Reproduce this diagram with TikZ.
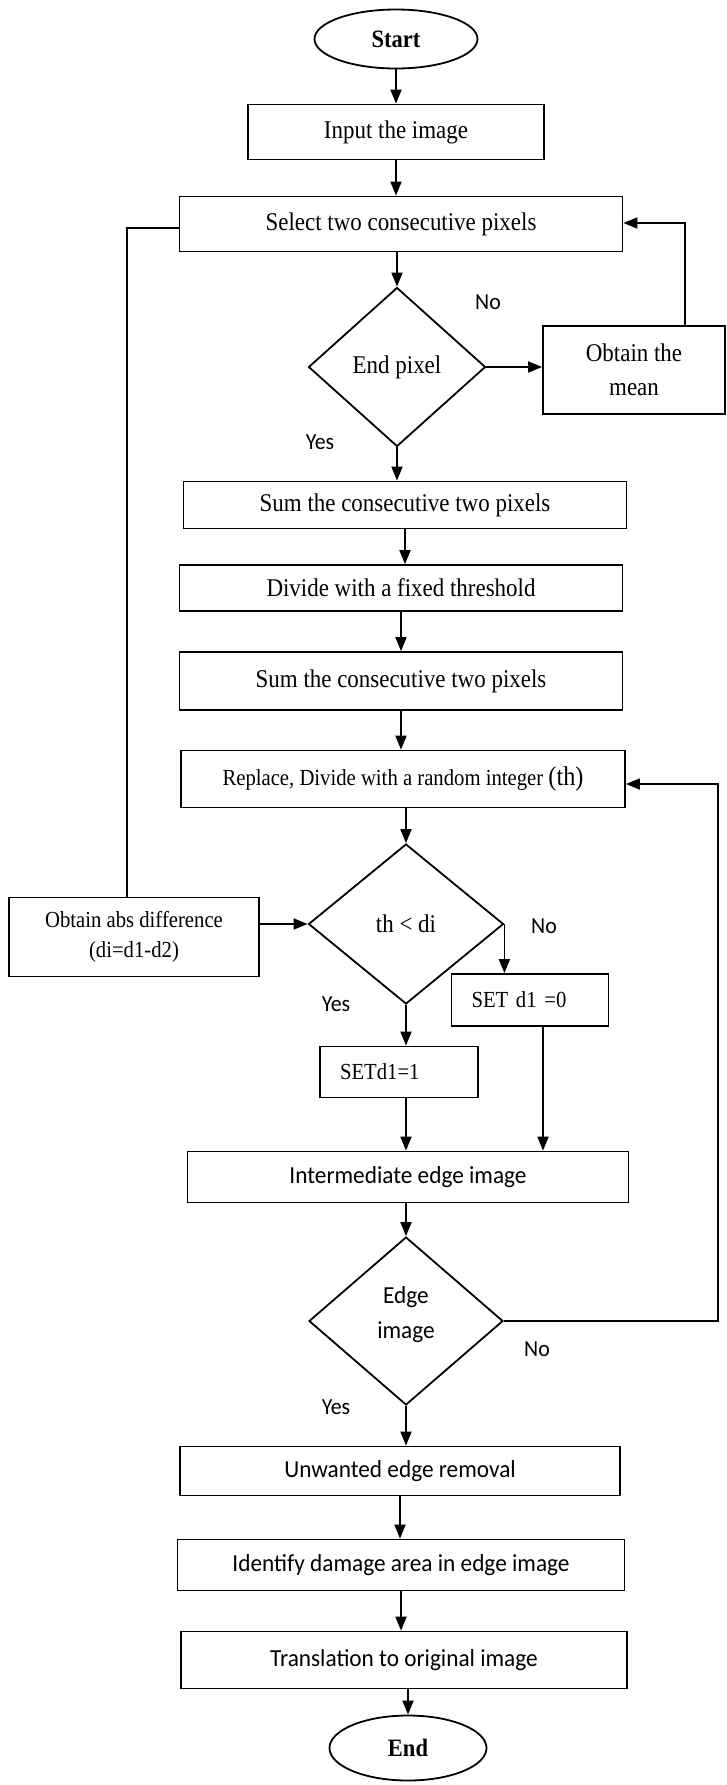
\documentclass[tikz,border=0pt]{standalone}
\usepackage{fontspec}
\setmainfont{Liberation Serif}[FakeStretch=0.9]
\newfontfamily\calfont{Carlito}[FakeStretch=0.95]
\usetikzlibrary{shapes.geometric,arrows.meta}
\begin{document}
\begin{tikzpicture}[x=1pt,y=-1pt,
  every node/.style={inner sep=0pt},
  box/.style={draw,line width=1.8pt,rectangle,align=center},
  dec/.style={draw,line width=1.8pt,diamond,align=center},
  term/.style={draw,line width=1.8pt,ellipse,font=\fontsize{25}{28}\selectfont\bfseries},
  tm/.style={font=\fontsize{25.5}{34}\selectfont},
  sm/.style={font=\fontsize{23}{30}\selectfont},
  cb/.style={font=\calfont\fontsize{24.5}{35}\selectfont},
  lab/.style={font=\calfont\fontsize{23}{26}\selectfont},
  setbox/.style={box,sm,align=left,inner xsep=20pt},
  arr/.style={line width=1.8pt,-{Triangle[length=14pt,width=11pt]}},
  ln/.style={line width=1.8pt}
]
\useasboundingbox (0,0) rectangle (726,1785);

\node[term,minimum width=163pt,minimum height=59pt] (start) at (396,39) {Start};
\node[box,tm,minimum width=296pt,minimum height=55pt] (input) at (396,132) {Input the image};
\node[box,tm,minimum width=443pt,minimum height=55pt] (select) at (401,224) {Select two consecutive pixels};
\node[dec,tm,minimum width=177pt,minimum height=159pt] (endpix) at (397,367) {End pixel};
\node[box,tm,minimum width=182pt,minimum height=88pt] (mean) at (634,370) {Obtain the\\mean};
\node[box,tm,minimum width=443pt,minimum height=47pt] (sum1) at (405,505) {Sum the consecutive two pixels};
\node[box,tm,minimum width=443pt,minimum height=46pt] (divide) at (401,588) {Divide with a fixed threshold};
\node[box,tm,minimum width=443pt,minimum height=58pt] (sum2) at (401,681) {Sum the consecutive two pixels};
\node[box,sm,minimum width=444pt,minimum height=57pt] (replace) at (403,779) {Replace, Divide with a random integer {\fontsize{27}{30}\selectfont(th)}};
\node[dec,tm,minimum width=195pt,minimum height=160pt] (thdi) at (406,924) {th < di};
\node[box,sm,minimum width=250pt,minimum height=79pt] (absd) at (134,937) {Obtain abs difference\\(di=d1-d2)};
\node[setbox,text width=117pt,minimum height=52pt] (set0) at (530,1000) {SET d1 =0};
\node[setbox,text width=118pt,minimum height=51pt] (set1) at (399,1072) {SETd1=1};
\node[box,cb,minimum width=441pt,minimum height=51pt] (inter) at (408,1177) {Intermediate edge image};
\node[dec,cb,minimum width=194pt,minimum height=168pt,text depth=18pt] (edge) at (406,1321) {Edge\\image};
\node[box,cb,minimum width=440pt,minimum height=49pt] (unw) at (400,1471) {Unwanted edge removal};
\node[box,cb,minimum width=447pt,minimum height=51pt] (ident) at (401,1565) {Identify damage area in edge image};
\node[box,cb,minimum width=446pt,minimum height=57pt] (trans) at (404,1660) {Translation to original image};
\node[term,minimum width=157pt,minimum height=65pt] (end) at (408,1748) {End};

\node[lab] (no1) at (488,302) {No};
\node[lab] (yes1) at (320,442) {Yes};
\node[lab] (no2) at (544,926) {No};
\node[lab] (yes2) at (336,1004) {Yes};
\node[lab] (no3) at (537,1349) {No};
\node[lab] (yes3) at (336,1407) {Yes};

\coordinate (c1) at (685,223);
\coordinate (c2) at (127,228);
\coordinate (c3) at (543,1100);
\coordinate (c4) at (718,784);

\draw[arr] (start) -- (input);
\draw[arr] (input.south) -- (input.south |- select.north);
\draw[arr] (endpix.north |- select.south) -- (endpix.north);
\draw[arr] (endpix.east) -- (endpix.east -| mean.west);
\draw[arr] (c1 |- mean.north) -- (c1) -- (c1 -| select.east);
\draw[arr] (endpix.south) -- (endpix.south |- sum1.north);
\draw[arr] (sum1.south) -- (sum1.south |- divide.north);
\draw[arr] (divide.south) -- (divide.south |- sum2.north);
\draw[arr] (sum2.south) -- (sum2.south |- replace.north);
\draw[arr] (thdi.north |- replace.south) -- (thdi.north);
\draw[ln] (c2 -| select.west) -- (c2) -- (c2 |- absd.north);
\draw[arr] (thdi.west -| absd.east) -- (thdi.west);
\draw[arr] (thdi.east) -- (thdi.east |- set0.north);
\draw[arr] (thdi.south) -- (thdi.south |- set1.north);
\draw[arr] (thdi.south |- set1.south) -- (thdi.south |- inter.north);
\draw[arr] (c3 |- set0.south) -- (c3 |- inter.north);
\draw[arr] (edge.north |- inter.south) -- (edge.north);
\draw[arr] (edge.east) -- (edge.east -| c4) -- (c4) -- (c4 -| replace.east);
\draw[arr] (edge.south) -- (edge.south |- unw.north);
\draw[arr] (unw.south) -- (unw.south |- ident.north);
\draw[arr] (ident.south) -- (ident.south |- trans.north);
\draw[arr] (end.north |- trans.south) -- (end.north);
\end{tikzpicture}
\end{document}
